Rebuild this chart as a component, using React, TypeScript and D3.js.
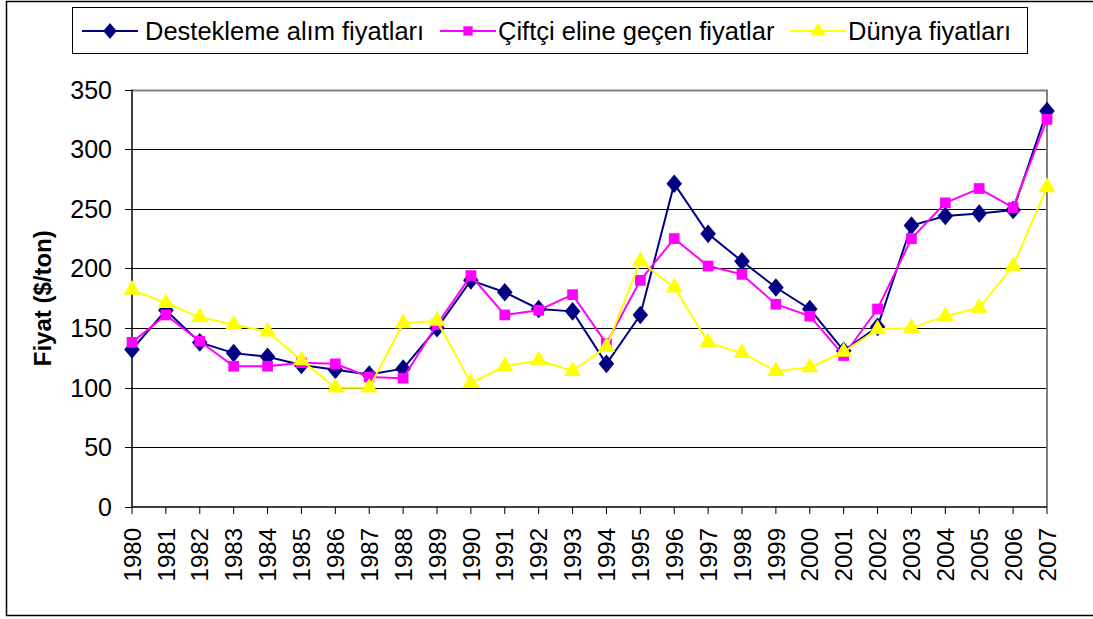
import React from "react";
import * as d3 from "d3";

const years = [
  "1980", "1981", "1982", "1983", "1984", "1985", "1986", "1987", "1988", "1989",
  "1990", "1991", "1992", "1993", "1994", "1995", "1996", "1997", "1998", "1999",
  "2000", "2001", "2002", "2003", "2004", "2005", "2006", "2007",
];

const destekleme = [
  132, 165, 138, 129, 126, 119, 115, 111, 116, 150,
  190, 180, 166, 164, 120, 161, 271, 229, 206, 184,
  166, 131, 151, 236, 244, 246, 249, 332,
];

const ciftci = [
  138, 161, 139, 118, 118, 121, 120, 109, 108, 153,
  194, 161, 165, 178, 137, 190, 225, 202, 195, 170,
  160, 127, 166, 225, 255, 267, 251, 325,
];

const dunya = [
  182, 171, 159, 153, 147, 123, 100, 100, 154, 156,
  104, 118, 123, 114, 134, 206, 184, 138, 129, 114,
  117, 130, 149, 150, 160, 167, 202, 268,
];

const yTicks = [0, 50, 100, 150, 200, 250, 300, 350];

const seriesNames = [
  "Destekleme alım fiyatları",
  "Çiftçi eline geçen fiyatlar",
  "Dünya fiyatları",
];

const colors = ["#000080", "#FF00FF", "#FFFF00"];
const shapes = [d3.symbolDiamond, d3.symbolSquare, d3.symbolTriangle];
const symbolSizes = [100, 115, 125];

const W = 1093;
const H = 619;
const left = 132;
const right = 1047;
const top = 89.5;
const bottom = 507;

const App = () => {
  const x = d3.scalePoint<string>().domain(years).range([left, right]);
  const y = d3.scaleLinear().domain([0, 350]).range([bottom, top]);
  const line = d3
    .line<number>()
    .x((_, i) => x(years[i]) as number)
    .y((d) => y(d));

  const allSeries = [destekleme, ciftci, dunya];
  const font = "Arial, 'Liberation Sans', sans-serif";
  const legendItems = [
    { lx: 82, tx: 145 },
    { lx: 440, tx: 498 },
    { lx: 790, tx: 848 },
  ];

  return (
    <svg
      width={W}
      height={H}
      style={{ position: "absolute", left: 0, top: 0, background: "#fff" }}
      fontFamily={font}
    >
      {/* outer chart border */}
      <rect x={6.5} y={1.5} width={1100} height={614} fill="none" stroke="#000" strokeWidth={1.5} />

      {/* gridlines */}
      {yTicks.slice(1).map((t) => (
        <line key={t} x1={left} x2={right} y1={Math.round(y(t)) + 0.5} y2={Math.round(y(t)) + 0.5}
          stroke={t === 350 ? "#808080" : "#000"} strokeWidth={t === 350 ? 2 : 1} />
      ))}
      <line x1={right} x2={right} y1={top} y2={bottom} stroke="#808080" strokeWidth={2} />

      {/* y axis */}
      <line x1={left} x2={left} y1={top} y2={bottom} stroke="#000" strokeWidth={1.5} />
      {yTicks.map((t) => (
        <g key={t}>
          <line x1={left - 7} x2={left} y1={Math.round(y(t)) + 0.5} y2={Math.round(y(t)) + 0.5} stroke="#000" />
          <text x={112} y={y(t)} dy="0.36em" textAnchor="end" fontSize={25}>{t}</text>
        </g>
      ))}
      <text
        transform={`translate(51, ${(top + bottom) / 2}) rotate(-90)`}
        textAnchor="middle"
        fontSize={24}
        fontWeight="bold"
      >
        Fiyat ($/ton)
      </text>

      {/* x axis */}
      <line x1={left} x2={right} y1={bottom} y2={bottom} stroke="#000" strokeWidth={1.5} />
      {years.map((yr) => {
        const px = x(yr) as number;
        return (
          <g key={yr}>
            <line x1={px} x2={px} y1={bottom} y2={bottom + 7} stroke="#000" />
            <text
              transform={`translate(${px}, 528) rotate(-90)`}
              textAnchor="end"
              dy="0.36em"
              fontSize={24}
            >
              {yr}
            </text>
          </g>
        );
      })}

      {/* series */}
      {allSeries.map((s, si) => (
        <g key={si}>
          <path d={line(s) ?? ""} fill="none" stroke={colors[si]} strokeWidth={2} />
          {s.map((v, i) => (
            <path
              key={i}
              d={d3.symbol().type(shapes[si]).size(symbolSizes[si])() ?? ""}
              transform={`translate(${x(years[i])}, ${y(v)})${si === 0 ? " scale(1.45,1)" : ""}`}
              fill={colors[si]}
            />
          ))}
        </g>
      ))}

      {/* legend */}
      <rect x={72.5} y={7.5} width={955} height={46} fill="#fff" stroke="#000" strokeWidth={1} />
      {legendItems.map((it, i) => (
        <g key={i}>
          <line x1={it.lx} x2={it.lx + 56} y1={31} y2={31} stroke={colors[i]} strokeWidth={2} />
          <path
            d={d3.symbol().type(shapes[i]).size(symbolSizes[i] * 0.75)() ?? ""}
            transform={`translate(${it.lx + 28}, 31)${i === 0 ? " scale(1.45,1)" : ""}`}
            fill={colors[i]}
          />
          <text x={it.tx} y={31} dy="0.36em" fontSize={25.5}>{seriesNames[i]}</text>
        </g>
      ))}
    </svg>
  );
};

export default App;
